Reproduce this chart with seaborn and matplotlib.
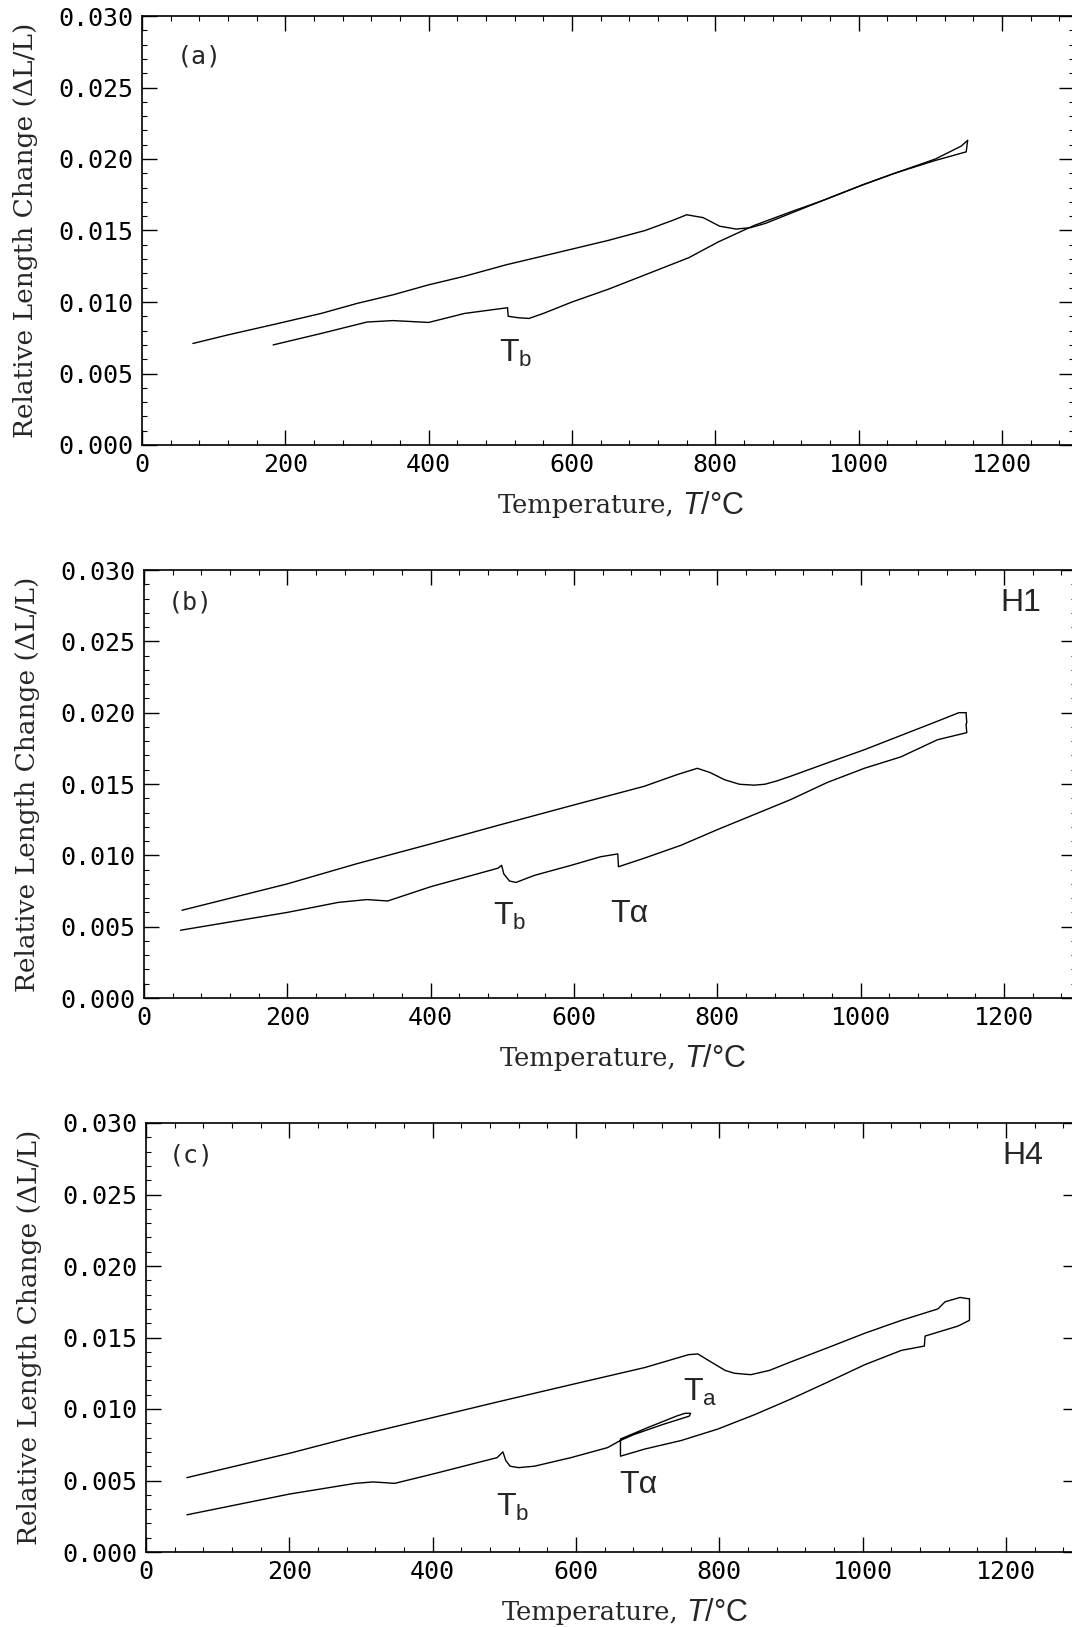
import matplotlib
matplotlib.use("Agg")
import matplotlib.pyplot as plt
from matplotlib.ticker import MultipleLocator, FormatStrFormatter
import pandas as pd
import seaborn as sns

# (a) heating / cooling
a_heat_T = [71, 120, 190, 250, 300, 350, 400, 450, 508, 550, 600, 650, 702, 740, 760,
            783, 806, 829, 849, 870, 905, 950, 1006, 1050, 1107, 1143, 1152]
a_heat_L = [0.0071, 0.0077, 0.0085, 0.0092, 0.0099, 0.0105, 0.0112, 0.0118, 0.0126,
            0.0131, 0.0137, 0.0143, 0.0150, 0.0157, 0.0161, 0.0159, 0.0153, 0.0151,
            0.0152, 0.0155, 0.0162, 0.0171, 0.0182, 0.0190, 0.0200, 0.0209, 0.0213]
a_cool_T = [1152, 1150, 1107, 1050, 1006, 950, 905, 854, 804, 763, 702, 651, 600, 560,
            540, 525, 511, 510, 480, 450, 400, 350, 314, 250, 183]
a_cool_L = [0.0213, 0.0205, 0.0199, 0.0190, 0.0182, 0.0171, 0.0163, 0.01535, 0.0142,
            0.0131, 0.0119, 0.0109, 0.0100, 0.0092, 0.00885, 0.0089, 0.0090, 0.0096,
            0.0094, 0.0092, 0.00857, 0.0087, 0.0086, 0.0078, 0.0070]

# (b) H1
b_heat_T = [53, 200, 296, 400, 494, 596, 698, 744, 772, 790, 810, 831, 851, 866, 882, 902,
            953, 1005, 1056, 1107, 1137, 1147]
b_heat_L = [0.00615, 0.0080, 0.0094, 0.0108, 0.0121, 0.01348, 0.01484, 0.01566, 0.0161,
            0.0158, 0.0153, 0.01498, 0.01492, 0.01498, 0.0152, 0.01554, 0.01647, 0.0174,
            0.0184, 0.0194, 0.0200, 0.0200]
b_cool_T = [1147, 1148, 1147, 1148, 1107, 1056, 1005, 953, 902, 851, 800, 749, 698, 662,
            661, 637, 596, 545, 519, 510, 502, 499, 494, 400, 340, 311, 271, 200, 51]
b_cool_L = [0.0200, 0.0193, 0.0192, 0.0186, 0.0181, 0.0169, 0.0161, 0.0151, 0.0139,
            0.01285, 0.0118, 0.0107, 0.0098, 0.0092, 0.0101, 0.0099, 0.0093, 0.0086,
            0.0081, 0.0082, 0.0087, 0.0093, 0.0091, 0.0078, 0.0068, 0.0069, 0.0067,
            0.0060, 0.00475]

# (c) H4
c_heat_T = [57, 200, 292, 400, 491, 593, 696, 757, 770, 788, 808, 821, 844, 870, 900,
            952, 1003, 1054, 1105, 1115, 1136, 1149]
c_heat_L = [0.0052, 0.0069, 0.0081, 0.0094, 0.0105, 0.0117, 0.0129, 0.0138, 0.01385,
            0.0133, 0.0127, 0.0125, 0.0124, 0.0127, 0.0133, 0.0143, 0.0153, 0.0162,
            0.0170, 0.0175, 0.0178, 0.0177]
c_cool_T = [1149, 1149, 1133, 1087, 1086, 1054, 1003, 952, 900, 849, 798, 747, 696, 662,
            662, 700, 740, 752, 760, 758, 720, 680, 662, 644, 593, 542, 520, 508, 502,
            498, 490, 400, 347, 317, 292, 200, 57]
c_cool_L = [0.0177, 0.0162, 0.0158, 0.0151, 0.0144, 0.0141, 0.0131, 0.0119, 0.0107,
            0.0096, 0.0086, 0.0078, 0.0072, 0.0067, 0.0079, 0.0087, 0.0095, 0.0097,
            0.0097, 0.0095, 0.0089, 0.0082, 0.0078, 0.0073, 0.0066, 0.0060, 0.0059,
            0.0060, 0.0064, 0.0070, 0.0066, 0.00545, 0.0048, 0.0049, 0.0048, 0.00405,
            0.0026]

panels = [
    {"curves": [(a_heat_T, a_heat_L), (a_cool_T, a_cool_L)], "tag": "(a)", "tag_xy": (48, 0.0272),
     "sample": None,
     "marks": [("T$_\\mathrm{b}$", 498, 0.0064)]},
    {"curves": [(b_heat_T, b_heat_L), (b_cool_T, b_cool_L)], "tag": "(b)", "tag_xy": (33, 0.0277),
     "sample": "H1",
     "marks": [("T$_\\mathrm{b}$", 487, 0.0057), ("Tα", 650, 0.0059)]},
    {"curves": [(c_heat_T, c_heat_L), (c_cool_T, c_cool_L)], "tag": "(c)", "tag_xy": (32, 0.0277),
     "sample": "H4",
     "marks": [("T$_\\mathrm{b}$", 488, 0.0031), ("Tα", 660, 0.0047), ("T$_\\mathrm{a}$", 749, 0.01115)]},
]

sns.set_style("ticks")
plt.rcParams["font.family"] = ["DejaVu Sans Mono"]
plt.rcParams["mathtext.fontset"] = "custom"
plt.rcParams["mathtext.rm"] = "Liberation Sans"
plt.rcParams["mathtext.it"] = "Liberation Sans:italic"

W, H = 1072, 1627
fig = plt.figure(figsize=(W / 100, H / 100), dpi=100)
boxes = [(142, 16, 445), (144, 570, 998), (146, 1123, 1552)]

for p, (left, top, bottom) in zip(panels, boxes):
    width = 1300 * 0.7167
    ax = fig.add_axes([left / W, 1 - bottom / H, width / W, (bottom - top) / H])
    for T, L in p["curves"]:
        df = pd.DataFrame({"T": T, "L": L})
        sns.lineplot(data=df, x="T", y="L", sort=False, estimator=None,
                     color="black", linewidth=1.0, ax=ax)
    ax.set_xlim(0, 1300)
    ax.set_ylim(0, 0.030)
    ax.xaxis.set_major_locator(MultipleLocator(200))
    ax.xaxis.set_minor_locator(MultipleLocator(40))
    ax.yaxis.set_major_locator(MultipleLocator(0.005))
    ax.yaxis.set_minor_locator(MultipleLocator(0.001))
    ax.yaxis.set_major_formatter(FormatStrFormatter("%.3f"))
    ax.tick_params(which="both", direction="in", top=True, right=True, colors="black")
    ax.tick_params(which="major", length=11, width=1.0, pad=6, labelsize=18)
    ax.tick_params(which="minor", length=3.5, width=0.8)
    for s in ax.spines.values():
        s.set_linewidth(1.2)
        s.set_color("black")

    ax.set_xlabel("")
    ax.set_ylabel("Relative Length Change (ΔL/L)", family="DejaVu Serif", fontsize=19)
    ax.yaxis.set_label_coords(-0.112, 0.5)
    ax.text(0.571, -0.142, "Temperature,", transform=ax.transAxes, ha="right", va="center",
            family="DejaVu Serif", fontsize=18.5)
    ax.text(0.580, -0.142, "$\\mathit{T}$/°C", transform=ax.transAxes, ha="left", va="center",
            family="Liberation Sans", fontsize=22)

    ax.text(*p["tag_xy"], p["tag"], ha="left", va="center", fontsize=18)
    if p["sample"]:
        ax.text(1195, 0.0277, p["sample"], ha="left", va="center",
                family="Liberation Sans", fontsize=23)
    for txt, x, y in p["marks"]:
        ax.text(x, y, txt, ha="left", va="center", family="Liberation Sans", fontsize=23)

fig.savefig("out.png", dpi=100)
